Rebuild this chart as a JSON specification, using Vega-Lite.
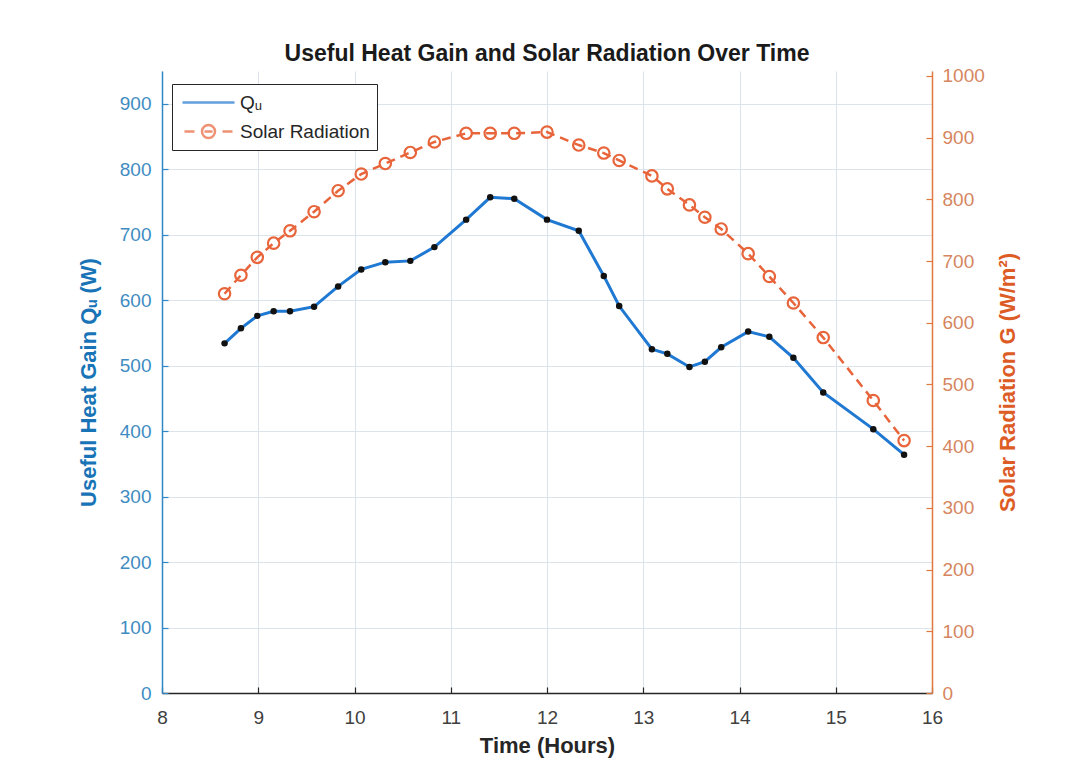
{
  "$schema": "https://vega.github.io/schema/vega-lite/v6.json",
  "width": 770,
  "height": 622,
  "autosize": {"type": "none"},
  "padding": {"left": 162, "top": 71, "right": 143, "bottom": 72},
  "background": "white",
  "config": {
    "font": "Liberation Sans",
    "view": {"stroke": null}
  },
  "title": {
    "text": "Useful Heat Gain and Solar Radiation Over Time",
    "fontSize": 23,
    "fontWeight": "bold",
    "color": "#1a1a1a",
    "anchor": "middle",
    "offset": 1
  },
  "datasets": {
    "series": [
      {"time": 8.65, "Qu": 534, "G": 647},
      {"time": 8.82, "Qu": 557, "G": 677},
      {"time": 8.99, "Qu": 576, "G": 706},
      {"time": 9.16, "Qu": 583, "G": 729},
      {"time": 9.33, "Qu": 583, "G": 749},
      {"time": 9.58, "Qu": 590, "G": 780},
      {"time": 9.83, "Qu": 621, "G": 814},
      {"time": 10.07, "Qu": 647, "G": 841},
      {"time": 10.32, "Qu": 658, "G": 858},
      {"time": 10.58, "Qu": 660, "G": 876},
      {"time": 10.83, "Qu": 681, "G": 893},
      {"time": 11.16, "Qu": 723, "G": 907},
      {"time": 11.41, "Qu": 757, "G": 907},
      {"time": 11.66, "Qu": 755, "G": 907},
      {"time": 12.0, "Qu": 723, "G": 909},
      {"time": 12.33, "Qu": 706, "G": 888},
      {"time": 12.59, "Qu": 637, "G": 875},
      {"time": 12.75, "Qu": 591, "G": 863},
      {"time": 13.09, "Qu": 525, "G": 838},
      {"time": 13.25, "Qu": 518, "G": 817},
      {"time": 13.48, "Qu": 498, "G": 791},
      {"time": 13.64, "Qu": 506, "G": 771},
      {"time": 13.81, "Qu": 528, "G": 752},
      {"time": 14.09, "Qu": 552, "G": 712},
      {"time": 14.31, "Qu": 544, "G": 675},
      {"time": 14.56, "Qu": 512, "G": 632},
      {"time": 14.87, "Qu": 459, "G": 576},
      {"time": 15.39, "Qu": 403, "G": 474},
      {"time": 15.71, "Qu": 364, "G": 409}
    ],
    "legend": [
      {"series": "Qᵤ"},
      {"series": "Solar Radiation"}
    ]
  },
  "data": {"name": "series"},
  "layer": [
    {
      "encoding": {
        "x": {
          "field": "time",
          "type": "quantitative",
          "scale": {"domain": [8, 16], "nice": false, "zero": false},
          "axis": {
            "values": [8, 9, 10, 11, 12, 13, 14, 15, 16],
            "format": "d",
            "title": "Time (Hours)",
            "titleFontSize": 22,
            "titleFontWeight": "bold",
            "titleColor": "#262626",
            "titlePadding": 8,
            "labelFontSize": 19,
            "labelColor": "#404040",
            "labelPadding": 21,
            "labelFlush": false,
            "domainColor": "#262626",
            "domainWidth": 1.5,
            "tickColor": "#262626",
            "tickSize": -6,
            "tickWidth": 1.2,
            "grid": true,
            "gridColor": "#dde3ea",
            "gridWidth": 1
          }
        },
        "y": {
          "field": "Qu",
          "type": "quantitative",
          "scale": {"domain": [0, 950], "nice": false},
          "axis": {
            "orient": "left",
            "values": [0, 100, 200, 300, 400, 500, 600, 700, 800, 900],
            "format": "d",
            "title": "Useful Heat Gain Qᵤ (W)",
            "titleFontSize": 22,
            "titleFontWeight": "bold",
            "titleColor": "#1874b6",
            "titlePadding": 19,
            "labelFontSize": 19,
            "labelColor": "#3f8cc2",
            "labelPadding": 17,
            "domainColor": "#2f87c6",
            "domainWidth": 1.5,
            "tickColor": "#2f87c6",
            "tickSize": -6,
            "tickWidth": 1.2,
            "grid": true,
            "gridColor": "#dde3ea",
            "gridWidth": 1
          }
        }
      },
      "layer": [
        {"mark": {"type": "line", "color": "#1f78d1", "strokeWidth": 3}},
        {"mark": {"type": "point", "filled": true, "color": "#111111", "size": 42, "opacity": 1}}
      ]
    },
    {
      "encoding": {
        "x": {"field": "time", "type": "quantitative"},
        "y": {
          "field": "G",
          "type": "quantitative",
          "scale": {"domain": [0, 1008], "nice": false},
          "axis": {
            "orient": "right",
            "values": [0, 100, 200, 300, 400, 500, 600, 700, 800, 900, 1000],
            "format": "d",
            "title": "Solar Radiation G (W/m²)",
            "titleAngle": 270,
            "titleFontSize": 22,
            "titleFontWeight": "bold",
            "titleColor": "#dd5c26",
            "titlePadding": 35,
            "labelFontSize": 19,
            "labelColor": "#d6865f",
            "labelPadding": 16,
            "domainColor": "#e07840",
            "domainWidth": 1.5,
            "tickColor": "#e07840",
            "tickSize": -6,
            "tickWidth": 1.2,
            "grid": false
          }
        }
      },
      "layer": [
        {"mark": {"type": "line", "color": "#e8643a", "strokeWidth": 2.5, "strokeDash": [9, 6]}},
        {"mark": {"type": "point", "filled": false, "color": "#e8643a", "size": 130, "strokeWidth": 2.2, "opacity": 1}}
      ]
    },
    {
      "data": {"name": "legend"},
      "transform": [{"filter": "false"}],
      "mark": {"type": "point", "filled": false},
      "encoding": {
        "color": {
          "field": "series",
          "type": "nominal",
          "scale": {"domain": ["Qᵤ", "Solar Radiation"], "range": ["#1f78d1", "#e8643a"]},
          "legend": {
            "orient": "none",
            "legendX": 10,
            "legendY": 13,
            "title": null,
            "labelFont": "Liberation Sans",
            "labelFontSize": 19,
            "labelColor": "#262626",
            "symbolSize": 400,
            "symbolStrokeWidth": 2.5,
            "symbolOffset": 18,
            "labelOffset": 20,
            "padding": 7,
            "rowPadding": 7,
            "strokeColor": "#262626",
            "fillColor": "white",
            "cornerRadius": 0
          }
        },
        "shape": {
          "field": "series",
          "type": "nominal",
          "scale": {
            "domain": ["Qᵤ", "Solar Radiation"],
            "range": [
              "M-2.6,0H2.6",
              "M-2.4,0H-1.4M-0.65,0A0.65,0.65,0,1,1,0.65,0A0.65,0.65,0,1,1,-0.65,0M-0.4,0H0.4M1.4,0H2.4"
            ]
          }
        }
      }
    }
  ],
  "resolve": {"scale": {"y": "independent"}}
}
